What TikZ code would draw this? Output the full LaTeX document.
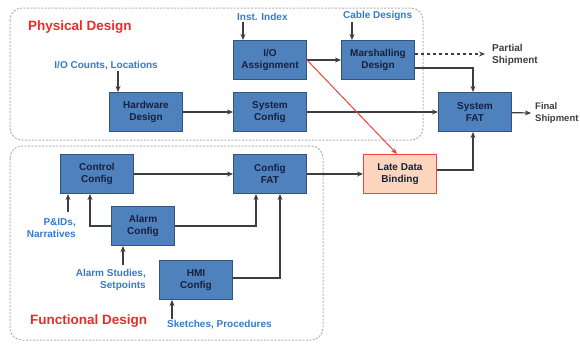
\documentclass[tikz,border=0pt]{standalone}
\usepackage{fontspec}
\setmainfont{Liberation Sans}
\usetikzlibrary{arrows.meta, positioning, calc}
\definecolor{boxblue}{RGB}{79, 129, 189}
\definecolor{boxedge}{RGB}{50, 84, 128}
\definecolor{boxtext}{RGB}{22, 32, 62}
\definecolor{labelblue}{RGB}{52, 122, 204}
\definecolor{titlered}{RGB}{236, 42, 42}
\definecolor{latefill}{RGB}{251, 214, 188}
\definecolor{lateedge}{RGB}{242, 64, 64}
\definecolor{linegray}{RGB}{62, 62, 62}
\definecolor{regiongray}{RGB}{178, 178, 178}

\begin{document}
\begin{tikzpicture}[x=1pt, y=-1pt,
    stage/.style={rectangle, draw=boxedge, fill=boxblue, line width=1pt, minimum width=73pt, minimum height=39pt, align=center, inner sep=1pt, text=boxtext, font=\fontsize{10}{12}\selectfont\bfseries},
    input/.style={inner sep=1pt, text=labelblue, font=\fontsize{10}{12.5}\selectfont\bfseries},
    output/.style={inner sep=1pt, align=left, anchor=west, text=linegray, font=\fontsize{10}{12}\selectfont\bfseries},
    title/.style={inner sep=0pt, anchor=west, text=titlered, font=\fontsize{13.5}{15}\selectfont\bfseries},
    region/.style={draw=regiongray, line width=1pt, dash pattern=on 2pt off 1.5pt, rounded corners=12pt},
    flow/.style={-{Stealth[length=6pt, width=5pt]}, linegray, line width=1.2pt}
]
    \useasboundingbox (0,0) rectangle (580,343);

    % 区域
    \draw[region] (10,8) rectangle (423,140);
    \draw[region] (10,146) rectangle (323,340);
    \node[title] (phys) at (28,27) {Physical Design};
    \node[title] (func) at (30,321) {Functional Design};

    % 物理设计
    \node[stage] (hw) at (146,112) {Hardware\\Design};
    \node[stage] (ioa) at (270,60) {I/O\\Assignment};
    \node[stage] (syscfg) at (270,112) {System\\Config};
    \node[stage] (marsh) at (378,60) {Marshalling\\Design};
    \node[stage] (sysfat) at (475,112) {System\\FAT};

    % 功能设计
    \node[stage] (ctrl) at (97,174) {Control\\Config};
    \node[stage] (cfgfat) at (270,174) {Config\\FAT};
    \node[stage, minimum width=63pt] (alarm) at (143,226) {Alarm\\Config};
    \node[stage] (hmi) at (196,280) {HMI\\Config};
    \node[stage, fill=latefill, draw=lateedge] (late) at (400,174) {Late Data\\Binding};

    % 输入
    \node[input, above right=18pt and 3pt of ioa.north west] (inst) {Inst. Index};
    \node[input, above right=18pt and 1pt of marsh.north west] (cable) {Cable Designs};
    \node[input, above left=21pt and 24pt of hw.north east] (counts) {I/O Counts, Locations};
    \node[input, align=right, anchor=north east] (pid) at (77,217) {P\&IDs,\\Narratives};
    \node[input, align=right, anchor=north east] (studies) at (147,268) {Alarm Studies,\\Setpoints};
    \node[input, anchor=west] (sketch) at (166,325) {Sketches, Procedures};

    \draw[flow] ([xshift=10pt]ioa.north west |- inst.south) -- ([xshift=10pt]ioa.north west);
    \draw[flow] ([xshift=11pt]marsh.north west |- cable.south) -- ([xshift=11pt]marsh.north west);
    \draw[flow] ([xshift=9pt]hw.north west |- counts.south) -- ([xshift=9pt]hw.north west);
    \draw[flow] ([xshift=8pt, yshift=5pt]ctrl.south west |- pid.north) -- ([xshift=8pt]ctrl.south west);
    \draw[flow] ([xshift=12pt, yshift=3pt]alarm.south west |- studies.north) -- ([xshift=12pt]alarm.south west);
    \draw[flow] ([xshift=13pt]hmi.south west |- sketch.north) -- ([xshift=13pt]hmi.south west);

    % 输出
    \node[output] (partial) at (491,55) {Partial\\Shipment};
    \node[output, font=\fontsize{9.5}{12}\selectfont\bfseries] (final) at (534,113) {Final\\Shipment};

    % 连线
    \draw[flow] (hw) -- (syscfg);
    \draw[flow] (syscfg) -- (sysfat);
    \draw[flow] (ioa) -- (marsh);
    \draw[flow, lateedge, line width=1pt] (ioa.east) -- ([xshift=-3pt]late.north);
    \draw[flow, dashed] ([yshift=6pt]marsh.east) -- ([xshift=-6pt, yshift=6pt]marsh.east -| partial.west);
    \draw[flow] ([yshift=-8pt]marsh.east) -| ([xshift=-2pt]sysfat.north);
    \draw[flow] (sysfat) -- ([xshift=-3pt]final.west);
    \draw[flow] ([yshift=4pt]late.east) -| ([xshift=-2pt]sysfat.south);

    \draw[flow] (ctrl) -- (cfgfat);
    \draw[flow] (cfgfat) -- (late);
    \draw[flow] (alarm.west) -| ([xshift=-7pt]ctrl.south);
    \draw[flow] (alarm.east) -| ([xshift=-14pt]cfgfat.south);
    \draw[flow] ([yshift=2pt]hmi.east) -| ([xshift=10pt]cfgfat.south);
\end{tikzpicture}
\end{document}
